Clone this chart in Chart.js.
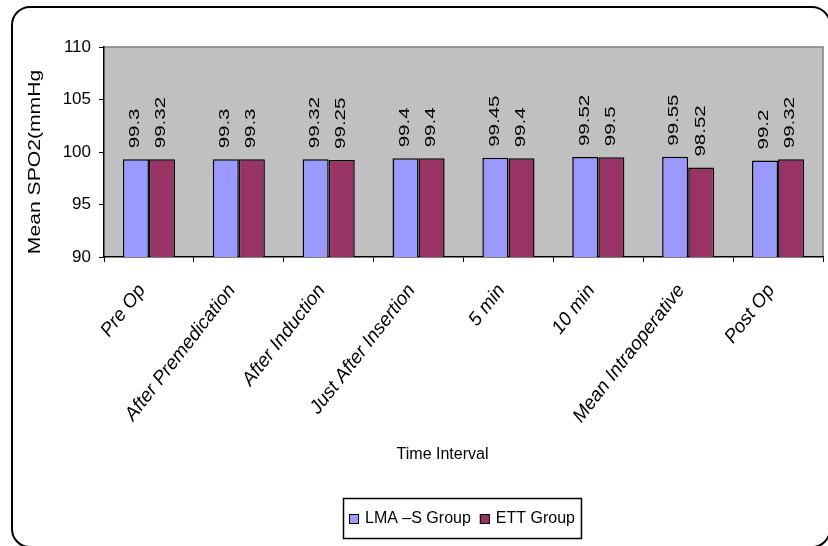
<!DOCTYPE html>
<html>
<head>
<meta charset="utf-8">
<script src="https://cdn.jsdelivr.net/npm/chart.js@4/dist/chart.umd.min.js"></script>
<style>
  html, body { margin: 0; padding: 0; background: #fff; }
  #wrap { width: 828px; height: 546px; }
</style>
</head>
<body>
<div id="wrap"><canvas id="c" width="828" height="546"></canvas></div>
<script>
// Mean SpO2 per time interval, two airway groups
const categories = ['Pre Op', 'After Premedication', 'After Induction', 'Just After Insertion',
                    '5 min', '10 min', 'Mean Intraoperative', 'Post Op'];
const lmaValues = [99.3, 99.3, 99.32, 99.4, 99.45, 99.52, 99.55, 99.2];
const ettValues = [99.32, 99.3, 99.25, 99.4, 99.4, 99.5, 98.52, 99.32];
const seriesNames = ['LMA \u2013S Group', 'ETT Group'];
const yTicks = [90, 95, 100, 105, 110];
const yTitle = 'Mean SPO2(mmHg';
const xTitle = 'Time Interval';

const FONT = "'Liberation Sans', Arial, sans-serif";
const seriesColors = ['#9999FF', '#993366'];
const TEXT_STRETCH = 1.32;   // tall, narrow lettering for vertical text

// Page frame, grey plot background and the grey top/right plot edges
const framePlugin = {
  id: 'frame',
  beforeDraw(chart) {
    const ctx = chart.ctx;
    const a = chart.chartArea;
    ctx.save();
    ctx.fillStyle = '#fff';
    ctx.fillRect(0, 0, chart.width, chart.height);
    ctx.lineWidth = 2;
    ctx.strokeStyle = '#000';
    ctx.beginPath();
    ctx.roundRect(12, 7, 818, 540, 18);
    ctx.stroke();
    ctx.fillStyle = '#C0C0C0';
    ctx.fillRect(a.left, a.top, a.right - a.left, a.bottom - a.top);
    ctx.strokeStyle = '#808080';
    ctx.lineWidth = 1.5;
    ctx.beginPath();
    ctx.moveTo(a.left, a.top);
    ctx.lineTo(a.right, a.top);
    ctx.lineTo(a.right, a.bottom);
    ctx.stroke();
    ctx.restore();
  }
};

// Axis titles
const axisTitlePlugin = {
  id: 'axisTitles',
  afterDraw(chart) {
    const ctx = chart.ctx;
    const a = chart.chartArea;
    ctx.save();
    ctx.fillStyle = '#000';
    ctx.font = '16px ' + FONT;
    ctx.textAlign = 'center';
    ctx.textBaseline = 'middle';
    // vertical title left of the value axis
    ctx.save();
    ctx.translate(36, (a.top + a.bottom) / 2 + 10);
    ctx.rotate(-Math.PI / 2);
    ctx.scale(TEXT_STRETCH, 1);
    ctx.fillText(yTitle, 0, 0);
    ctx.restore();
    // category axis title
    ctx.fillText(xTitle, (a.left + a.right) / 2 - 21, a.bottom + 198);
    ctx.restore();
  }
};

// Vertical value labels above each bar
const valueLabelPlugin = {
  id: 'valueLabels',
  afterDatasetsDraw(chart) {
    const ctx = chart.ctx;
    ctx.save();
    ctx.font = '15.5px ' + FONT;
    ctx.fillStyle = '#000';
    ctx.textAlign = 'left';
    ctx.textBaseline = 'middle';
    chart.data.datasets.forEach((ds, di) => {
      chart.getDatasetMeta(di).data.forEach((bar, i) => {
        ctx.save();
        ctx.translate(bar.x - 1, bar.y - 11);
        ctx.rotate(-Math.PI / 2);
        ctx.scale(TEXT_STRETCH, 1);
        ctx.fillText(String(ds.data[i]), 0, 0);
        ctx.restore();
      });
    });
    ctx.restore();
  }
};

// Boxed legend under the axis title
const boxedLegendPlugin = {
  id: 'boxedLegend',
  afterDraw(chart) {
    const ctx = chart.ctx;
    const a = chart.chartArea;
    ctx.save();
    ctx.font = '16px ' + FONT;
    ctx.textBaseline = 'middle';
    const sq = 10, gapSq = 6, gapItem = 9, padX = 6;
    const widths = chart.data.datasets.map(ds => ctx.measureText(ds.label).width);
    let total = padX * 2;
    widths.forEach((w, i) => { total += sq + gapSq + w + (i < widths.length - 1 ? gapItem : 0); });
    const cx = (a.left + a.right) / 2 - 2;
    const left = Math.round(cx - total / 2);
    const top = chart.height - 48, h = 40;
    ctx.strokeStyle = '#000';
    ctx.lineWidth = 1.5;
    ctx.strokeRect(left + 0.5, top + 0.5, total, h);
    let x = left + padX;
    const my = top + h / 2 + 1;
    chart.data.datasets.forEach((ds, i) => {
      ctx.fillStyle = ds.backgroundColor;
      ctx.fillRect(x, my - sq / 2, sq, sq);
      ctx.lineWidth = 1;
      ctx.strokeRect(x + 0.5, my - sq / 2 + 0.5, sq - 1, sq - 1);
      x += sq + gapSq;
      ctx.fillStyle = '#000';
      ctx.fillText(ds.label, x, my);
      x += widths[i] + gapItem;
    });
    ctx.restore();
  }
};

new Chart(document.getElementById('c'), {
  type: 'bar',
  data: {
    labels: categories,
    datasets: [
      { label: seriesNames[0], data: lmaValues, backgroundColor: seriesColors[0],
        borderColor: '#000', borderWidth: 1.5, borderSkipped: false },
      { label: seriesNames[1], data: ettValues, backgroundColor: seriesColors[1],
        borderColor: '#000', borderWidth: 1.5, borderSkipped: false }
    ]
  },
  options: {
    responsive: false,
    devicePixelRatio: 1,
    animation: false,
    datasets: { bar: { categoryPercentage: 0.58, barPercentage: 1.0 } },
    layout: { padding: { left: 22, top: 47, right: 5, bottom: 0 } },
    plugins: {
      legend: { display: false },
      tooltip: { enabled: false }
    },
    scales: {
      x: {
        grid: { display: true, offset: true, drawOnChartArea: false, drawTicks: true,
                tickLength: 5, color: '#000' },
        border: { display: true, color: '#000', width: 1.5 },
        ticks: {
          color: '#000', font: { family: FONT, size: 19, style: 'italic' },
          maxRotation: 52, minRotation: 52, autoSkip: false, padding: 18, labelOffset: -7
        },
        afterFit(scale) { scale.height = 289; }
      },
      y: {
        min: yTicks[0],
        max: yTicks[yTicks.length - 1],
        afterBuildTicks(scale) { scale.ticks = yTicks.map(v => ({ value: v })); },
        grid: { display: true, drawOnChartArea: false, drawTicks: true, tickLength: 5, color: '#000' },
        border: { display: true, color: '#000', width: 1.5 },
        ticks: { color: '#000', font: { family: FONT, size: 17 }, padding: 8 },
        afterFit(scale) { scale.width = 82; }
      }
    }
  },
  plugins: [framePlugin, valueLabelPlugin, axisTitlePlugin, boxedLegendPlugin]
});
</script>
</body>
</html>
